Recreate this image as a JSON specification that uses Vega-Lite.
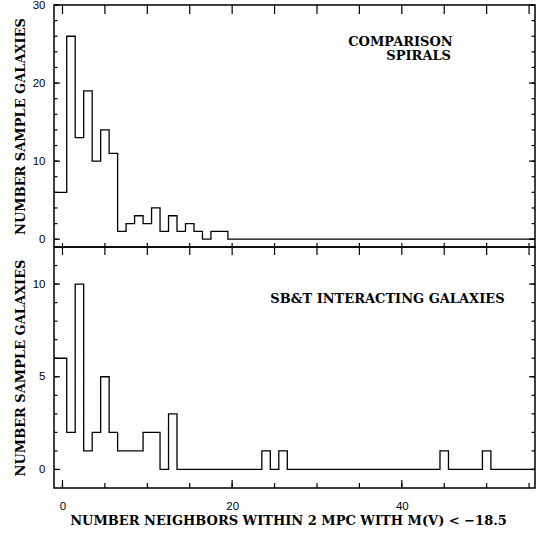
{
  "$schema": "https://vega.github.io/schema/vega-lite/v6.json",
  "padding": {"left": 13, "top": -2, "right": 1, "bottom": 5},
  "background": "white",
  "spacing": 0,
  "bounds": "flush",
  "config": {
    "view": {"stroke": "black", "strokeWidth": 1.5},
    "axis": {"domain": false, "grid": false, "ticks": false, "labelFont": "Liberation Sans", "labelFontSize": 11.5, "labelColor": "black", "titleFont": "DejaVu Serif", "titleFontSize": 13, "titleFontWeight": "bold", "titleColor": "black"},
    "rule": {"color": "black", "strokeWidth": 1.2, "opacity": 1}
  },
  "datasets": {
    "spirals": [
      {"n": -1, "count": 6}, {"n": 0, "count": 6}, {"n": 1, "count": 26}, {"n": 2, "count": 13}, {"n": 3, "count": 19},
      {"n": 4, "count": 10}, {"n": 5, "count": 14}, {"n": 6, "count": 11}, {"n": 7, "count": 1}, {"n": 8, "count": 2},
      {"n": 9, "count": 3}, {"n": 10, "count": 2}, {"n": 11, "count": 4}, {"n": 12, "count": 1}, {"n": 13, "count": 3},
      {"n": 14, "count": 1}, {"n": 15, "count": 2}, {"n": 16, "count": 1}, {"n": 17, "count": 0}, {"n": 18, "count": 1},
      {"n": 19, "count": 1}, {"n": 20, "count": 0}, {"n": 21, "count": 0}, {"n": 22, "count": 0}, {"n": 23, "count": 0},
      {"n": 24, "count": 0}, {"n": 25, "count": 0}, {"n": 26, "count": 0}, {"n": 27, "count": 0}, {"n": 28, "count": 0},
      {"n": 29, "count": 0}, {"n": 30, "count": 0}, {"n": 31, "count": 0}, {"n": 32, "count": 0}, {"n": 33, "count": 0},
      {"n": 34, "count": 0}, {"n": 35, "count": 0}, {"n": 36, "count": 0}, {"n": 37, "count": 0}, {"n": 38, "count": 0},
      {"n": 39, "count": 0}, {"n": 40, "count": 0}, {"n": 41, "count": 0}, {"n": 42, "count": 0}, {"n": 43, "count": 0},
      {"n": 44, "count": 0}, {"n": 45, "count": 0}, {"n": 46, "count": 0}, {"n": 47, "count": 0}, {"n": 48, "count": 0},
      {"n": 49, "count": 0}, {"n": 50, "count": 0}, {"n": 51, "count": 0}, {"n": 52, "count": 0}, {"n": 53, "count": 0},
      {"n": 54, "count": 0}, {"n": 55, "count": 0}, {"n": 56, "count": 0}
    ],
    "interacting": [
      {"n": -1, "count": 6}, {"n": 0, "count": 6}, {"n": 1, "count": 2}, {"n": 2, "count": 10}, {"n": 3, "count": 1},
      {"n": 4, "count": 2}, {"n": 5, "count": 5}, {"n": 6, "count": 2}, {"n": 7, "count": 1}, {"n": 8, "count": 1},
      {"n": 9, "count": 1}, {"n": 10, "count": 2}, {"n": 11, "count": 2}, {"n": 12, "count": 0}, {"n": 13, "count": 3},
      {"n": 14, "count": 0}, {"n": 15, "count": 0}, {"n": 16, "count": 0}, {"n": 17, "count": 0}, {"n": 18, "count": 0},
      {"n": 19, "count": 0}, {"n": 20, "count": 0}, {"n": 21, "count": 0}, {"n": 22, "count": 0}, {"n": 23, "count": 0},
      {"n": 24, "count": 1}, {"n": 25, "count": 0}, {"n": 26, "count": 1}, {"n": 27, "count": 0}, {"n": 28, "count": 0},
      {"n": 29, "count": 0}, {"n": 30, "count": 0}, {"n": 31, "count": 0}, {"n": 32, "count": 0}, {"n": 33, "count": 0},
      {"n": 34, "count": 0}, {"n": 35, "count": 0}, {"n": 36, "count": 0}, {"n": 37, "count": 0}, {"n": 38, "count": 0},
      {"n": 39, "count": 0}, {"n": 40, "count": 0}, {"n": 41, "count": 0}, {"n": 42, "count": 0}, {"n": 43, "count": 0},
      {"n": 44, "count": 0}, {"n": 45, "count": 1}, {"n": 46, "count": 0}, {"n": 47, "count": 0}, {"n": 48, "count": 0},
      {"n": 49, "count": 0}, {"n": 50, "count": 1}, {"n": 51, "count": 0}, {"n": 52, "count": 0}, {"n": 53, "count": 0},
      {"n": 54, "count": 0}, {"n": 55, "count": 0}, {"n": 56, "count": 0}
    ],
    "labelsTop": [
      {"x": 46, "y": 24.8, "label": "COMPARISON"},
      {"x": 45.8, "y": 23.0, "label": "SPIRALS"}
    ],
    "labelsBottom": [
      {"x": 24.5, "y": 9, "label": "SB&T INTERACTING GALAXIES"}
    ],
    "xMinor": [{"v": 0}, {"v": 5}, {"v": 10}, {"v": 15}, {"v": 20}, {"v": 25}, {"v": 30}, {"v": 35}, {"v": 40}, {"v": 45}, {"v": 50}, {"v": 55}],
    "xMajor": [{"v": 0}, {"v": 20}, {"v": 40}],
    "yTopMinor": [{"v": 0}, {"v": 2}, {"v": 4}, {"v": 6}, {"v": 8}, {"v": 10}, {"v": 12}, {"v": 14}, {"v": 16}, {"v": 18}, {"v": 20}, {"v": 22}, {"v": 24}, {"v": 26}, {"v": 28}, {"v": 30}],
    "yTopMajor": [{"v": 0}, {"v": 10}, {"v": 20}, {"v": 30}],
    "yBotMinor": [{"v": 0}, {"v": 1}, {"v": 2}, {"v": 3}, {"v": 4}, {"v": 5}, {"v": 6}, {"v": 7}, {"v": 8}, {"v": 9}, {"v": 10}, {"v": 11}, {"v": 12}],
    "yBotMajor": [{"v": 0}, {"v": 5}, {"v": 10}]
  },
  "vconcat": [
    {
      "width": 481,
      "height": 242,
      "layer": [
        {
          "data": {"name": "spirals"},
          "mark": {"type": "line", "interpolate": "step", "color": "black", "strokeWidth": 1.3, "clip": true},
          "encoding": {
            "x": {"field": "n", "type": "quantitative", "scale": {"domain": [-1, 55.7], "nice": false, "zero": false}, "axis": null},
            "y": {"field": "count", "type": "quantitative", "scale": {"domain": [-1, 30], "nice": false, "zero": false},
                  "axis": {"orient": "left", "values": [0, 10, 20, 30], "labelPadding": 9, "title": "NUMBER SAMPLE GALAXIES", "titlePadding": 5}}
          }
        },
        {
          "data": {"name": "xMinor"},
          "mark": {"type": "rule"},
          "encoding": {"x": {"field": "v", "type": "quantitative"}, "y": {"datum": -1, "type": "quantitative"}, "y2": {"datum": -0.5}}
        },
        {
          "data": {"name": "xMinor"},
          "mark": {"type": "rule"},
          "encoding": {"x": {"field": "v", "type": "quantitative"}, "y": {"datum": 30, "type": "quantitative"}, "y2": {"datum": 28.85}}
        },
        {
          "data": {"name": "yTopMajor"},
          "mark": {"type": "rule"},
          "encoding": {"y": {"field": "v", "type": "quantitative"}, "x": {"datum": -1, "type": "quantitative"}, "x2": {"datum": -0.29}}
        },
        {
          "data": {"name": "yTopMinor"},
          "mark": {"type": "rule"},
          "encoding": {"y": {"field": "v", "type": "quantitative"}, "x": {"datum": -1, "type": "quantitative"}, "x2": {"datum": -0.59}}
        },
        {
          "data": {"name": "yTopMajor"},
          "mark": {"type": "rule"},
          "encoding": {"y": {"field": "v", "type": "quantitative"}, "x": {"datum": 55.7, "type": "quantitative"}, "x2": {"datum": 54.99}}
        },
        {
          "data": {"name": "yTopMinor"},
          "mark": {"type": "rule"},
          "encoding": {"y": {"field": "v", "type": "quantitative"}, "x": {"datum": 55.7, "type": "quantitative"}, "x2": {"datum": 55.29}}
        },
        {
          "data": {"name": "labelsTop"},
          "mark": {"type": "text", "align": "right", "baseline": "alphabetic", "font": "DejaVu Serif", "fontSize": 13, "fontWeight": "bold", "color": "black"},
          "encoding": {
            "x": {"field": "x", "type": "quantitative"},
            "y": {"field": "y", "type": "quantitative"},
            "text": {"field": "label"}
          }
        }
      ]
    },
    {
      "width": 481,
      "height": 241,
      "layer": [
        {
          "data": {"name": "interacting"},
          "mark": {"type": "line", "interpolate": "step", "color": "black", "strokeWidth": 1.3, "clip": true},
          "encoding": {
            "x": {"field": "n", "type": "quantitative", "scale": {"domain": [-1, 55.7], "nice": false, "zero": false},
                  "axis": {"orient": "bottom", "values": [0, 20, 40], "labelPadding": 12, "labelFlush": false, "title": "NUMBER NEIGHBORS WITHIN 2 MPC WITH M(V) < −18.5", "titlePadding": 3, "titleX": 234}},
            "y": {"field": "count", "type": "quantitative", "scale": {"domain": [-1, 12], "nice": false, "zero": false},
                  "axis": {"orient": "left", "values": [0, 5, 10], "labelPadding": 9, "title": "NUMBER SAMPLE GALAXIES", "titlePadding": 5}}
          }
        },
        {
          "data": {"name": "xMinor"},
          "mark": {"type": "rule"},
          "encoding": {"x": {"field": "v", "type": "quantitative"}, "y": {"datum": -1, "type": "quantitative"}, "y2": {"datum": -0.73}}
        },
        {
          "data": {"name": "xMajor"},
          "mark": {"type": "rule"},
          "encoding": {"x": {"field": "v", "type": "quantitative"}, "y": {"datum": -1, "type": "quantitative"}, "y2": {"datum": -0.57}}
        },
        {
          "data": {"name": "xMinor"},
          "mark": {"type": "rule"},
          "encoding": {"x": {"field": "v", "type": "quantitative"}, "y": {"datum": 12, "type": "quantitative"}, "y2": {"datum": 11.57}}
        },
        {
          "data": {"name": "yBotMajor"},
          "mark": {"type": "rule"},
          "encoding": {"y": {"field": "v", "type": "quantitative"}, "x": {"datum": -1, "type": "quantitative"}, "x2": {"datum": -0.29}}
        },
        {
          "data": {"name": "yBotMinor"},
          "mark": {"type": "rule"},
          "encoding": {"y": {"field": "v", "type": "quantitative"}, "x": {"datum": -1, "type": "quantitative"}, "x2": {"datum": -0.59}}
        },
        {
          "data": {"name": "yBotMajor"},
          "mark": {"type": "rule"},
          "encoding": {"y": {"field": "v", "type": "quantitative"}, "x": {"datum": 55.7, "type": "quantitative"}, "x2": {"datum": 54.99}}
        },
        {
          "data": {"name": "yBotMinor"},
          "mark": {"type": "rule"},
          "encoding": {"y": {"field": "v", "type": "quantitative"}, "x": {"datum": 55.7, "type": "quantitative"}, "x2": {"datum": 55.29}}
        },
        {
          "data": {"name": "labelsBottom"},
          "mark": {"type": "text", "align": "left", "baseline": "alphabetic", "font": "DejaVu Serif", "fontSize": 13, "fontWeight": "bold", "color": "black"},
          "encoding": {
            "x": {"field": "x", "type": "quantitative"},
            "y": {"field": "y", "type": "quantitative"},
            "text": {"field": "label"}
          }
        }
      ]
    }
  ]
}
